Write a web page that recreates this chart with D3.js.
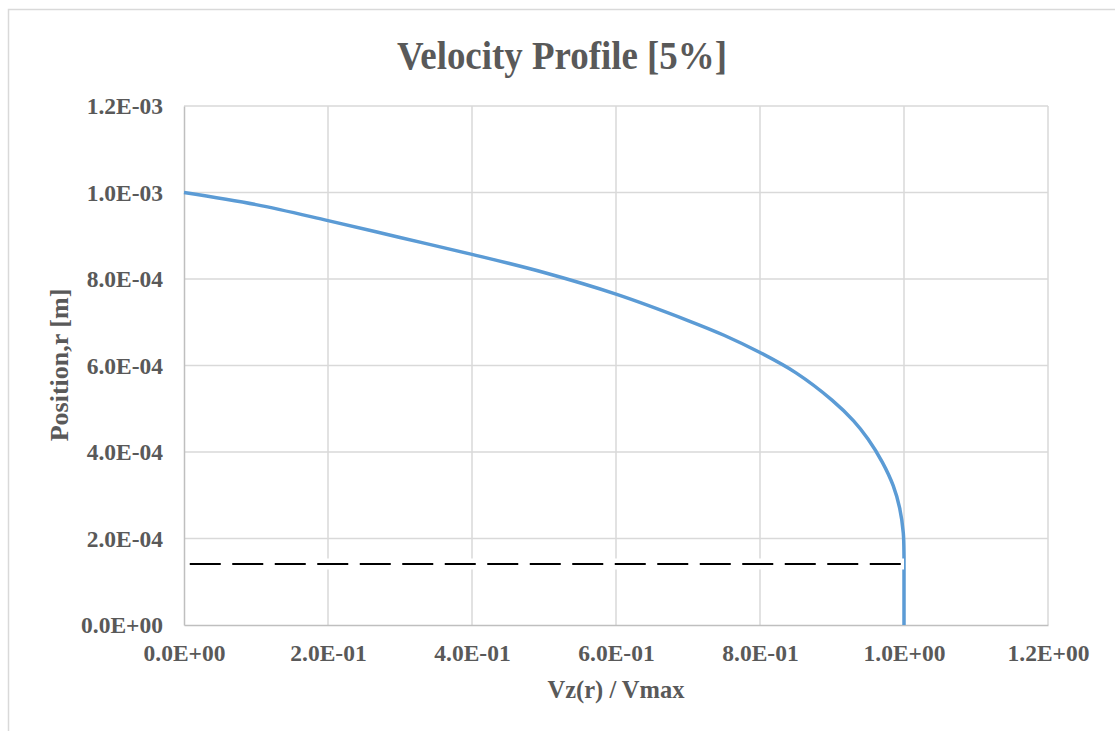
<!DOCTYPE html>
<html>
<head>
<meta charset="utf-8">
<script src="https://cdn.jsdelivr.net/npm/d3@7"></script>
<style>
  html, body { margin: 0; padding: 0; background: #ffffff; }
  svg { display: block; }
  text { font-family: "Liberation Serif", "Times New Roman", serif; font-weight: bold; fill: #595959; }
</style>
</head>
<body>
<svg id="chart" width="1115" height="731"></svg>
<script>
// ---- data ----
const velocity = [0, 0.1, 0.2, 0.3, 0.4, 0.5, 0.6, 0.7, 0.75, 0.8, 0.85, 0.9, 0.93, 0.95, 0.97, 0.985, 0.994, 0.999, 1.0, 1.0, 1.0];
const position = [1.000e-3, 0.972e-3, 0.935e-3, 0.896e-3, 0.857e-3, 0.815e-3, 0.765e-3, 0.704e-3, 0.670e-3, 0.630e-3, 0.583e-3, 0.520e-3, 0.472e-3, 0.430e-3, 0.376e-3, 0.322e-3, 0.270e-3, 0.213e-3, 0.16e-3, 0.14e-3, 0];
const plugVelocity = [0.008, 1.0];
const plugPosition = [1.41e-4, 1.41e-4];
const xTicks = [0, 0.2, 0.4, 0.6, 0.8, 1.0, 1.2];
const xTickLabels = ["0.0E+00", "2.0E-01", "4.0E-01", "6.0E-01", "8.0E-01", "1.0E+00", "1.2E+00"];
const yTicks = [0, 2e-4, 4e-4, 6e-4, 8e-4, 1e-3, 1.2e-3];
const yTickLabels = ["0.0E+00", "2.0E-04", "4.0E-04", "6.0E-04", "8.0E-04", "1.0E-03", "1.2E-03"];
const chartTitle = "Velocity Profile [5%]";
const xTitle = "Vz(r) / Vmax";
const yTitle = "Position,r [m]";

const svg = d3.select("#chart");
const W = 1115, H = 731;
svg.append("rect").attr("width", W).attr("height", H).attr("fill", "#fff");

// outer chart border (only left and top visible)
svg.append("path").attr("d", `M8.5,${H} L8.5,9.5 L${W},9.5`)
  .attr("fill", "none").attr("stroke", "#d9d9d9").attr("stroke-width", 1.5);

const x = d3.scaleLinear().domain([0, 1.2]).range([184, 1048]);
const y = d3.scaleLinear().domain([0, 1.2e-3]).range([625, 106]);

// gridlines
const grid = svg.append("g");
grid.selectAll("line.v").data(xTicks.slice(1)).join("line")
  .attr("x1", d => x(d)).attr("x2", d => x(d))
  .attr("y1", y(0)).attr("y2", y(1.2e-3))
  .attr("stroke", "#d9d9d9").attr("stroke-width", 1.5);
grid.selectAll("line.h").data(yTicks.slice(1)).join("line")
  .attr("x1", x(0)).attr("x2", x(1.2))
  .attr("y1", d => y(d)).attr("y2", d => y(d))
  .attr("stroke", "#d9d9d9").attr("stroke-width", 1.5);

// axes
const xAxis = d3.axisBottom(x).tickValues(xTicks).tickSize(0)
  .tickFormat((d, i) => xTickLabels[i]);
const gx = svg.append("g").attr("transform", `translate(0,${y(0)})`).call(xAxis);
gx.select(".domain").attr("stroke", "#bfbfbf").attr("stroke-width", 1.5);
gx.selectAll("text").attr("font-size", 23.5).attr("dy", null).attr("y", 36)
  .attr("font-family", "Liberation Serif").attr("font-weight", "bold").attr("fill", "#595959");

const yAxis = d3.axisLeft(y).tickValues(yTicks).tickSize(0)
  .tickFormat((d, i) => yTickLabels[i]);
const gy = svg.append("g").attr("transform", `translate(${x(0)},0)`).call(yAxis);
gy.select(".domain").attr("stroke", "#bfbfbf").attr("stroke-width", 1.5);
gy.selectAll("text").attr("font-size", 23.5).attr("x", -21).attr("dy", "0.33em")
  .attr("font-family", "Liberation Serif").attr("font-weight", "bold").attr("fill", "#595959");
svg.selectAll(".tick line").remove();

// velocity profile
const profile = velocity.map((v, i) => [v, position[i]]);
const line = d3.line().x(d => x(d[0])).y(d => y(d[1])).curve(d3.curveCatmullRom.alpha(0.5));
svg.append("path").datum(profile).attr("d", line)
  .attr("fill", "none").attr("stroke", "#5b9bd5").attr("stroke-width", 3.5)
  .attr("stroke-linejoin", "round");

// plug boundary (dashed, with white backing)
const plug = plugVelocity.map((v, i) => [v, plugPosition[i]]);
const straight = d3.line().x(d => x(d[0])).y(d => y(d[1]));
svg.append("path").datum(plug).attr("d", straight)
  .attr("fill", "none").attr("stroke", "#ffffff").attr("stroke-width", 11);
svg.append("path").datum(plug).attr("d", straight)
  .attr("fill", "none").attr("stroke", "#000000").attr("stroke-width", 2)
  .attr("stroke-dasharray", "31,11.5");

// titles
svg.append("text").attr("x", 562).attr("y", 69).attr("text-anchor", "middle")
  .attr("font-size", 40).attr("textLength", 330).attr("lengthAdjust", "spacingAndGlyphs")
  .text(chartTitle);
svg.append("text").attr("x", 616).attr("y", 698).attr("text-anchor", "middle")
  .attr("font-size", 24.5).text(xTitle);
svg.append("text").attr("transform", "translate(68,365) rotate(-90)")
  .attr("text-anchor", "middle").attr("font-size", 26).text(yTitle);
</script>
</body>
</html>
